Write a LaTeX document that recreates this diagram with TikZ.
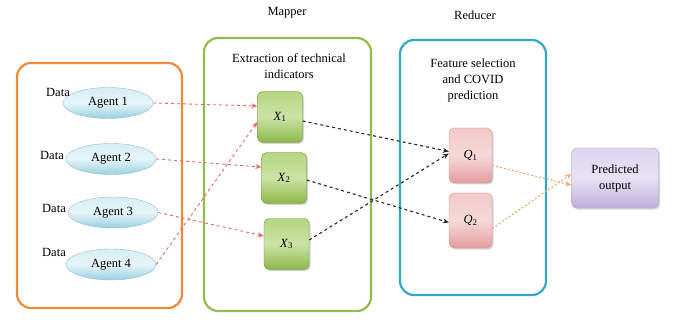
\documentclass[tikz,border=0pt]{standalone}
\usepackage{fontspec}
\setmainfont{Liberation Serif}
\usetikzlibrary{arrows.meta,shadows,shapes.geometric}
\definecolor{orng}{HTML}{F4883A}
\definecolor{grn}{HTML}{92BD4B}
\definecolor{blu}{HTML}{33A8C6}
\definecolor{redar}{HTML}{E06A6A}
\definecolor{orar}{HTML}{F5A66A}
\definecolor{xtop}{HTML}{B5D680}
\definecolor{xbot}{HTML}{8CB848}
\definecolor{qtop}{HTML}{F3C8C8}
\definecolor{qbot}{HTML}{E39C9C}
\definecolor{ptop}{HTML}{DDD5EE}
\definecolor{pbot}{HTML}{BDB0DA}
\definecolor{atop}{HTML}{D6EEF5}
\definecolor{abot}{HTML}{98CFE0}
\begin{document}
\begin{tikzpicture}[x=1pt,y=-1pt,
  every node/.style={font=\fontsize{12.5}{16}\selectfont},
  group/.style={draw, line width=2.2pt, rounded corners=14pt, inner sep=0pt},
  agent/.style={ellipse, draw=abot!80!gray, line width=0.4pt, top color=atop, bottom color=abot, middle color=atop!60!white, minimum width=90pt, minimum height=31pt, inner sep=0pt},
  xbox/.style={rounded corners=5pt, draw=xbot!80!black, line width=0.4pt, top color=xtop, bottom color=xbot, middle color=xtop!70!white, minimum width=45pt, minimum height=51pt, inner sep=0pt, drop shadow={shadow xshift=1.5pt,shadow yshift=-1.5pt,opacity=0.35}},
  qbox/.style={rounded corners=5pt, draw=qbot!80!gray, line width=0.4pt, top color=qtop, bottom color=qbot, middle color=qtop!70!white, minimum width=43pt, minimum height=55pt, inner sep=0pt, drop shadow={shadow xshift=1.5pt,shadow yshift=-1.5pt,opacity=0.35}},
  pbox/.style={rounded corners=5pt, draw=pbot!80!gray, line width=0.4pt, top color=ptop, bottom color=pbot, middle color=ptop!70!white, minimum width=87pt, minimum height=60pt, inner sep=0pt, align=center, drop shadow={shadow xshift=1.5pt,shadow yshift=-1.5pt,opacity=0.35}},
  redarrow/.style={draw=redar, dashed, line width=0.9pt, -{Stealth[length=6pt,width=5pt]}},
  blackarrow/.style={draw=black!85, dashed, line width=1.1pt, -{Stealth[length=6pt,width=5pt]}},
  orarrow/.style={draw=orar, dash pattern=on 2pt off 2pt, line width=1.1pt, -{Stealth[length=6pt,width=5pt]}},
  lbl/.style={inner sep=0pt}
]
\useasboundingbox (0,0) rectangle (676,320);
% group boxes
\node[group, draw=orng, minimum width=165pt, minimum height=245pt] (gorange) at (99.5,185.5) {};
\node[group, draw=grn, minimum width=167pt, minimum height=273pt] (ggreen) at (287.5,174.5) {};
\node[group, draw=blu, minimum width=146pt, minimum height=255pt] (gblue) at (473,167.5) {};
% headings
\node[lbl] (mapper) at (287,13) {Mapper};
\node[lbl] (reducer) at (475,15) {Reducer};
\node[lbl, align=center] (gtitle) at (289,66) {Extraction of technical\\indicators};
\node[lbl, align=center] (btitle) at (473,80) {Feature selection\\and COVID\\prediction};
% agents
\node[agent] (a1) at (108,103) {Agent 1};
\node[agent] (a2) at (111,159) {Agent 2};
\node[agent] (a3) at (113,212.5) {Agent 3};
\node[agent] (a4) at (111,264.5) {Agent 4};
\node[lbl] (d1) at (58,92) {Data};
\node[lbl] (d2) at (52,155) {Data};
\node[lbl] (d3) at (54,208) {Data};
\node[lbl] (d4) at (54,252) {Data};
% X boxes
\node[xbox] (x1) at (280,117) {\textit{X}\textsubscript{1}};
\node[xbox] (x2) at (284,178) {\textit{X}\textsubscript{2}};
\node[xbox] (x3) at (286.5,244) {\textit{X}\textsubscript{3}};
% Q boxes
\node[qbox] (q1) at (470.5,155.5) {\textit{Q}\textsubscript{1}};
\node[qbox] (q2) at (470.5,220.5) {\textit{Q}\textsubscript{2}};
% predicted output
\node[pbox] (po) at (615,178) {Predicted\\output};
% red arrows
\draw[redarrow] (a1.east) -- (x1.west |- 0,106);
\draw[redarrow] (a2.east) -- (x2.west |- 0,167);
\draw[redarrow] (a3.east) -- (x3.west |- 0,236);
\draw[redarrow] (a4.east) -- ([yshift=-5pt]x1.west);
% black arrows
\draw[blackarrow] ([yshift=-4pt]x1.east) -- ([yshift=4pt]q1.west);
\draw[blackarrow] ([yshift=-2pt]x2.east) -- ([yshift=-2pt]q2.west);
\draw[blackarrow] ([yshift=4pt]x3.east) -- ([yshift=2pt]q1.west);
% orange arrows
\draw[orarrow] ([yshift=-10pt]q1.east) -- ([yshift=-7pt]po.west);
\draw[orarrow] ([yshift=-8pt]q2.east) -- ([yshift=4pt]po.west);
\end{tikzpicture}
\end{document}
